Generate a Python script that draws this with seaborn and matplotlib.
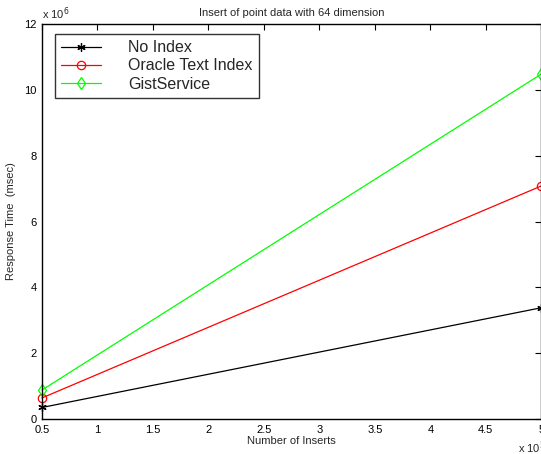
import matplotlib
matplotlib.use("Agg")
import matplotlib.pyplot as plt
import matplotlib.ticker as mticker
import numpy as np
import pandas as pd
import seaborn as sns

# Data (inserts, response time in msec)
inserts = [50000, 500000]
no_index = [350000, 3380000]
oracle_text = [640000, 7080000]
gist_service = [880000, 10480000]

series_names = ["No Index", "Oracle Text Index", "GistService"]
series_values = [no_index, oracle_text, gist_service]
colors = ["black", "red", "#00ff00"]
markers = [(6, 2, 0), "o", "d"]

sns.set_style("white")
plt.rcParams['font.family'] = ['Liberation Sans', 'DejaVu Sans']

fig = plt.figure(figsize=(5.41, 4.54), dpi=100)
ax = fig.add_axes([0.0776, 0.0771, 0.923, 0.870])

for name, vals, c, m in zip(series_names, series_values, colors, markers):
    df = pd.DataFrame({"x": inserts, "y": vals})
    sns.lineplot(data=df, x="x", y="y", ax=ax, color=c, marker=m,
                 markersize=6, markerfacecolor="none",
                 markeredgecolor=c, markeredgewidth=0.9, linewidth=0.9, label=name,
                 clip_on=False)

ax.set_xlim(50000, 500000)
ax.set_ylim(0, 12e6)
ax.set_xticks(np.arange(50000, 500001, 50000))
ax.set_yticks(np.arange(0, 12e6 + 1, 2e6))
ax.xaxis.set_major_formatter(mticker.FuncFormatter(lambda v, p: f"{v/1e5:g}"))
ax.yaxis.set_major_formatter(mticker.FuncFormatter(lambda v, p: f"{v/1e6:g}"))
ax.tick_params(direction="in", top=True, right=True, length=4, width=0.8,
               labelsize=8, colors="black", pad=4)
for s in ax.spines.values():
    s.set_visible(True)
    s.set_color("black")
    s.set_linewidth(1.0)

ax.set_xlabel("Number of Inserts", fontsize=8, labelpad=1)
ax.set_ylabel("Response Time  (msec)", fontsize=8, labelpad=6)
ax.set_title("Insert of point data with 64 dimension", fontsize=8, pad=6)

fig.text(42/541, 1 - 14/454, r"x 10$^6$", fontsize=8, ha="left", va="center")
fig.text(518/541, 1 - 448/454, r"x 10$^5$", fontsize=8, ha="left", va="center")

leg = ax.legend(loc="upper left", bbox_to_anchor=(0.026, 0.975), fontsize=11.5,
                frameon=True, fancybox=False, handlelength=2.5, handletextpad=1.7,
                borderpad=0.4, labelspacing=0.2, borderaxespad=0)
leg.get_frame().set_edgecolor("black")
leg.get_frame().set_linewidth(1.0)

fig.savefig("out.png", dpi=100)
